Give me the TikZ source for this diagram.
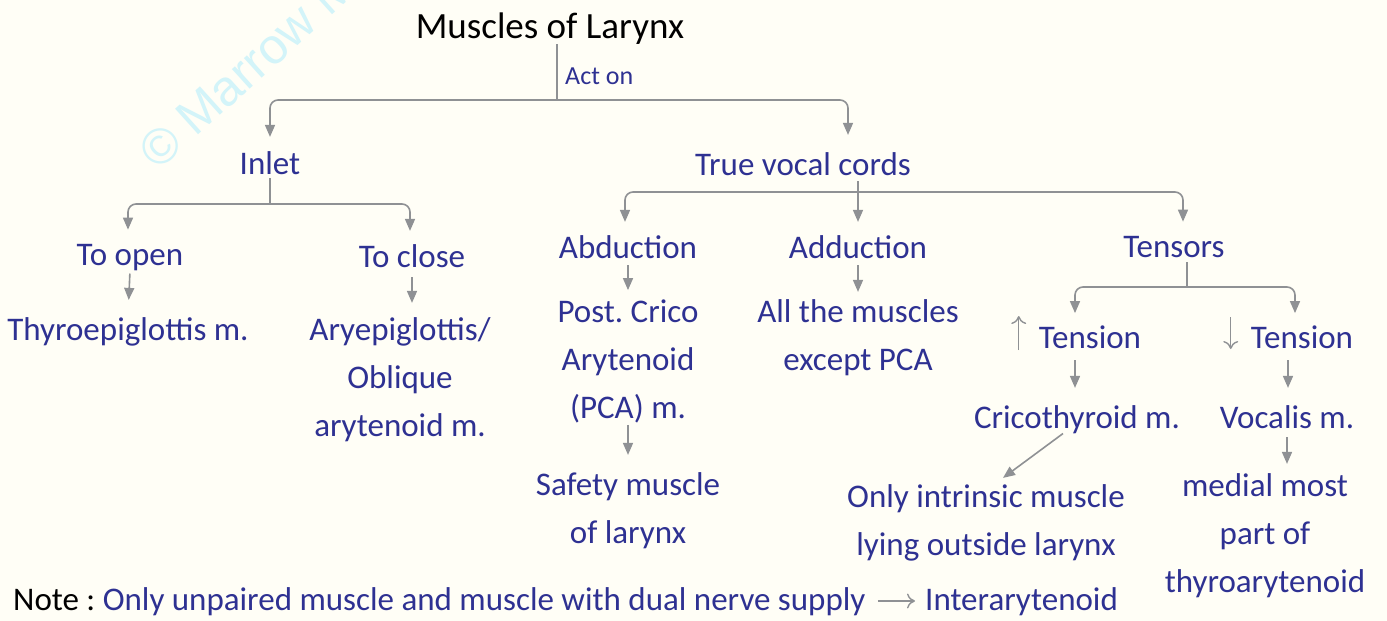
\documentclass[tikz,border=0pt]{standalone}
\usepackage{fontspec}
\setmainfont{Carlito}
\newfontfamily\wmfont{Liberation Sans}
\usetikzlibrary{arrows.meta,calc}
\definecolor{bg}{HTML}{FFFEF6}
\definecolor{ink}{HTML}{2E3192}
\definecolor{ln}{HTML}{8F9194}
\definecolor{wm}{HTML}{D3F4F9}
\frenchspacing
\begin{document}
\begin{tikzpicture}[x=1pt,y=-1pt,
 txt/.style={text=ink, font=\fontsize{33}{48}\selectfont, anchor=base, inner sep=0pt, align=center},
 ttl/.style={txt, text=black, font=\fontsize{37}{48}\selectfont},
 plain/.style={draw=ln, line width=1.6pt, rounded corners=8pt},
 conn/.style={plain, -{Triangle[length=12pt,width=10pt]}},
 thinarr/.style={draw=ln, line width=1.4pt, -{To[length=8pt,width=15pt]}}
]
\fill[bg] (0,0) rectangle (1387,621);
\useasboundingbox (0,0) rectangle (1387,621);
\begin{scope}
\clip (0,0) rectangle (1387,621);
\node[text=wm, font=\wmfont\fontsize{50}{50}\selectfont, rotate=42, anchor=base west, inner sep=0pt] (wm) at (158,172) {© Marrow M};
\end{scope}

\node[ttl] (title) at (550,38) {Muscles of Larynx};
\node[txt, font=\fontsize{26}{30}\selectfont, anchor=base west] (acton) at (565,84) {Act on};
\node[txt] (inlet) at (270,174) {Inlet};
\node[txt] (tvc) at (803,175) {True vocal cords};
\node[txt] (open) at (130,265) {To open};
\node[txt] (close) at (412,267) {To close};
\node[txt] (thyro) at (128,340) {Thyroepiglottis m.};
\node[txt] (ary) at (400,436) {Aryepiglottis/\\Oblique\\arytenoid m.};
\node[txt] (abd) at (628,258) {Abduction};
\node[txt] (pca) at (628,418) {Post. Crico\\Arytenoid\\(PCA) m.};
\node[txt] (safety) at (628,543) {Safety muscle\\of larynx};
\node[txt] (add) at (858,258) {Adduction};
\node[txt] (allm) at (858,370) {All the muscles\\except PCA};
\node[txt] (tens) at (1174,257) {Tensors};
\node[txt] (tup) at (1090,348) {Tension};
\node[txt] (tdn) at (1302,348) {Tension};
\node[txt] (crico) at (1077,428) {Cricothyroid m.};
\node[txt] (voc) at (1287,428) {Vocalis m.};
\node[txt] (intr) at (986,555) {Only intrinsic muscle\\lying outside larynx};
\node[txt] (medial) at (1265,592) {medial most\\part of\\thyroarytenoid};
\node[txt, anchor=base west] (note) at (13,610) {\textcolor{black}{Note :} Only unpaired muscle and muscle with dual nerve supply};
\node[txt, anchor=base west] (inter) at (925,610) {Interarytenoid};

% root
\coordinate (j0) at (557,100);
\draw[plain] (title.south -| j0) -- (j0);
\draw[conn, shorten >=14pt] (j0) -| (inlet.north);
\draw[conn, shorten >=17pt] (j0) -| ([xshift=45pt]tvc.north);
% inlet
\coordinate (j1) at (270,204);
\draw[plain, shorten <=4pt] (inlet.south) -- (j1);
\draw[conn, shorten >=14pt] (j1) -| ([xshift=-2pt]open.north);
\draw[conn, shorten >=13pt] (j1) -| ([xshift=-2pt]close.north);
\draw[conn, shorten <=3pt, shorten >=17pt] (open.south) -- (thyro.north);
\draw[conn, shorten <=10pt, shorten >=14pt] ([xshift=12pt]ary.north |- close.south) -- ([xshift=12pt]ary.north);
% true vocal cords
\coordinate (j2) at (858,192);
\draw[conn, shorten <=6pt, shorten >=13pt] (tvc.south -| add.north) -- (add.north);
\draw[conn, shorten >=13pt] (j2) -| ([xshift=-3pt]abd.north);
\draw[conn, shorten >=14pt] (j2) -| ([xshift=9pt]tens.north);
\draw[conn, shorten <=7pt, shorten >=9pt] (abd.south) -- (pca.north);
\draw[conn, shorten <=7pt, shorten >=7pt] (add.south) -- (allm.north);
\draw[conn, shorten <=2pt, shorten >=17pt] (pca.south) -- (safety.north);
% tensors
\coordinate (j3) at (1187,287);
\draw[plain, shorten <=5pt] (tens.south -| j3) -- (j3);
\draw[conn, shorten >=12pt] (j3) -| ([xshift=-15pt]tup.north);
\draw[conn, shorten >=12pt] (j3) -| ([xshift=-7pt]tdn.north);
\draw[thinarr] ($(tup.base west)+(-20,2)$) -- ++(0,-34);
\draw[thinarr] ($(tdn.base west)+(-20,-31)$) -- ++(0,32);
\draw[conn, shorten <=12pt, shorten >=17pt] ([xshift=-15pt]tup.south) -- ([xshift=-15pt]tup.south |- crico.north);
\draw[conn, shorten <=12pt, shorten >=17pt] ([xshift=-14pt]tdn.south) -- ([xshift=-14pt]tdn.south |- voc.north);
\draw[conn, shorten <=9pt, shorten >=9pt] (voc.south) -- (voc.south |- medial.north);
\draw[conn] ([xshift=-14pt]crico.south) -- ([xshift=17pt,yshift=6pt]intr.north);
% note
\draw[thinarr] ([xshift=12pt,yshift=9pt]note.base east) -- ([xshift=-10pt,yshift=9pt]inter.base west);
\end{tikzpicture}
\end{document}
